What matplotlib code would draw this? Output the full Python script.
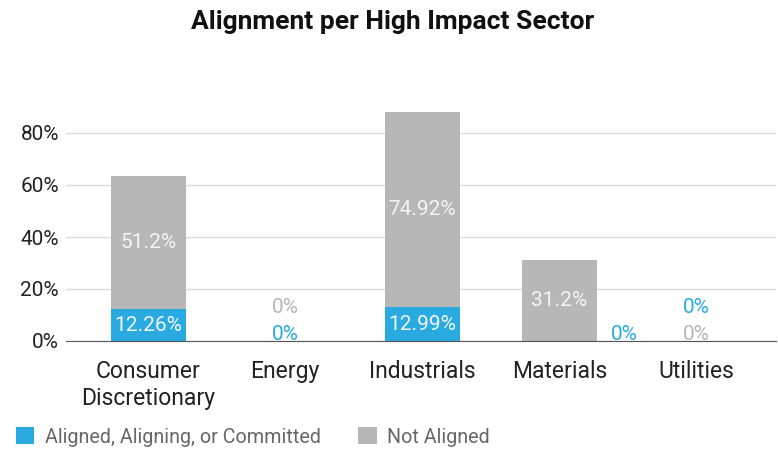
import matplotlib.pyplot as plt
import numpy as np

plt.rcParams['font.family'] = ['Roboto', 'DejaVu Sans']

# data
sectors = ["Consumer\nDiscretionary", "Energy", "Industrials", "Materials", "Utilities"]
aligned = [12.26, 0, 12.99, 0, 0]
not_aligned = [51.2, 0, 74.92, 31.2, 0]
y_ticks = [0, 20, 40, 60, 80]

blue = "#29abe2"
grey = "#b7b7b7"

fig = plt.figure(figsize=(7.78, 4.49), dpi=100)
ax = fig.add_axes([66 / 778, 1 - 341 / 449, 710 / 778, 260 / 449])

x = np.arange(len(sectors))
ax.bar(x, aligned, width=0.55, color=blue, label="Aligned, Aligning, or Committed", zorder=3)
ax.bar(x, not_aligned, width=0.55, bottom=aligned, color=grey, label="Not Aligned", zorder=3)

ax.set_xlim(-0.6, 4.58)
ax.set_ylim(0, 100)
ax.set_yticks(y_ticks)
ax.set_yticklabels([f"{t}%" for t in y_ticks], fontsize=15, color="#222222")
ax.set_xticks(x)
ax.set_xticklabels(sectors, fontsize=16.5, color="#222222", linespacing=1.2)
ax.tick_params(length=0)
ax.tick_params(axis="y", pad=5)
ax.tick_params(axis="x", pad=14)
ax.grid(axis="y", color="#dddddd", linewidth=1, zorder=0)
for s in ["top", "right", "left"]:
    ax.spines[s].set_visible(False)
ax.spines["bottom"].set_color("#555555")
ax.spines["bottom"].set_zorder(4)

# bar labels
for i in range(len(sectors)):
    a, n = aligned[i], not_aligned[i]
    if a > 0:
        ax.text(i, a / 2, f"{a:g}%", ha="center", va="center", color="#f4f4f4", fontsize=15, zorder=5)
    if n > 0:
        ax.text(i, a + n / 2, f"{n:g}%", ha="center", va="center", color="#f4f4f4", fontsize=15, zorder=5)

# zero labels sit beside / above the baseline
ax.text(1, 12.7, f"{not_aligned[1]:g}%", ha="center", va="center", color=grey, fontsize=15)
ax.text(1, 2.6, f"{aligned[1]:g}%", ha="center", va="center", color=blue, fontsize=15)
ax.text(3.47, 2.6, f"{aligned[3]:g}%", ha="center", va="center", color=blue, fontsize=15)
ax.text(4, 12.7, f"{aligned[4]:g}%", ha="center", va="center", color=blue, fontsize=15)
ax.text(4, 2.6, f"{not_aligned[4]:g}%", ha="center", va="center", color=grey, fontsize=15)

fig.text(393 / 778, 1 - 22 / 449, "Alignment per High Impact Sector", ha="center", va="center",
         fontsize=19, fontweight="bold", color="#111111")

leg = fig.legend(loc="center left", bbox_to_anchor=(-2 / 778, 1 - 437 / 449), ncol=2, frameon=False,
                 fontsize=14.2, handlelength=0.95, handleheight=0.95, columnspacing=1.85, handletextpad=0.55)
for t in leg.get_texts():
    t.set_color("#666666")

fig.savefig("out.png", dpi=100)
